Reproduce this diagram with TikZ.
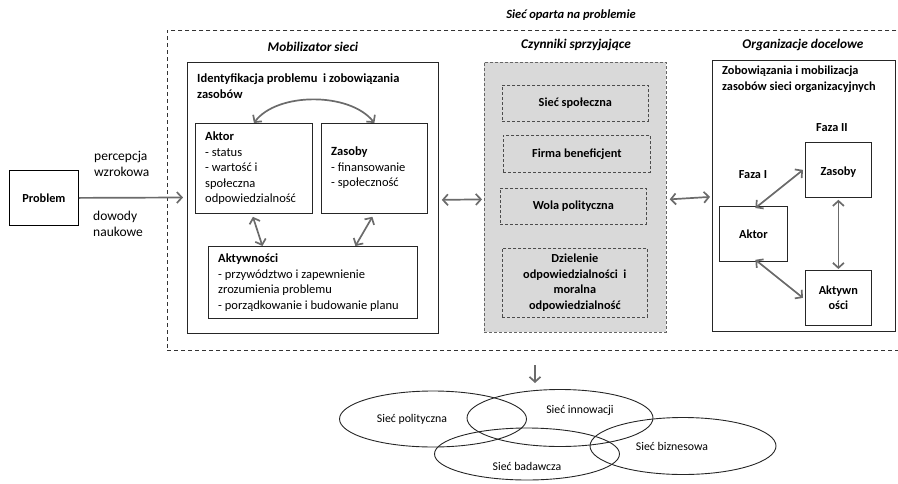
\documentclass[tikz,border=0pt]{standalone}
\usepackage{fontspec}
\setmainfont{Carlito}
\usetikzlibrary{arrows.meta,shapes.geometric}
\definecolor{arrgray}{HTML}{6B6B6B}
\definecolor{boxfill}{HTML}{D9D9D9}
\begin{document}
\begin{tikzpicture}[x=1pt,y=-1pt,
  box/.style={draw=black!85, line width=0.8pt, inner sep=0, anchor=north west},
  dbox/.style={draw=black!70, dashed, dash pattern=on 3pt off 2pt, line width=0.7pt, inner sep=0, anchor=north west},
  lbl/.style={anchor=north west, inner sep=0, align=left, font=\fontsize{12.5}{15.5}\selectfont},
  blbl/.style={inner sep=0, align=center, font=\fontsize{12.3}{15.5}\selectfont\bfseries},
  ttl/.style={inner sep=0, font=\fontsize{13.3}{15}\selectfont\bfseries\itshape},
  elab/.style={inner sep=0, font=\fontsize{11.8}{13}\selectfont},
  ell/.style={ellipse, draw=black!85, line width=0.9pt, inner sep=0},
  arr/.style={draw=arrgray, line width=1.7pt, -{Straight Barb[length=5pt,width=11pt]}},
  darr/.style={draw=arrgray, line width=1.7pt, {Straight Barb[length=5pt,width=11pt]}-{Straight Barb[length=5pt,width=11pt]}}
]
\useasboundingbox (0,0) rectangle (898,483);

% outer dashed frame
\node[draw=black!80, dashed, dash pattern=on 4pt off 3pt, line width=0.8pt, inner sep=0, anchor=north west,
      minimum width=740pt, minimum height=320pt] (outer) at (167,30) {};
\node[ttl, font=\fontsize{12.5}{15}\selectfont\bfseries\itshape] (tmain) at (571,15) {Sieć oparta na problemie};

% Problem
\node[box, draw=black, minimum width=69pt, minimum height=55pt] (prob) at (9,170) {};
\node[blbl] (probt) at (prob.center) {Problem};
\coordinate (probend) at (183,197.5);
\draw[arr] (prob.east) -- (probend);
\node[lbl, font=\fontsize{13.5}{16}\selectfont] (perc) at (94,151) {percepcja\\wzrokowa};
\node[lbl, font=\fontsize{13.5}{16}\selectfont] (dow) at (93,211) {dowody\\naukowe};

% Mobilizator sieci
\node[ttl] (tmob) at (313,47) {Mobilizator sieci};
\node[box, minimum width=251pt, minimum height=271pt] (mob) at (187,62) {};
\node[lbl, font=\fontsize{12.5}{15.5}\selectfont\bfseries] (ident) at (197,74) {Identyfikacja problemu\ \ i zobowiązania\\zasobów};
\node[box, minimum width=117pt, minimum height=90pt] (aktor) at (195,123) {};
\node[lbl] (aktort) at (205,132) {\textbf{Aktor}\\- status\\- wartość i\\społeczna\\odpowiedzialność};
\node[box, minimum width=106pt, minimum height=90pt] (zas) at (321,123) {};
\node[lbl] (zast) at (331,147) {\textbf{Zasoby}\\- finansowanie\\- społeczność};
\node[box, minimum width=209pt, minimum height=72pt] (akt) at (208,246) {};
\node[lbl] (aktt) at (218,254) {\textbf{Aktywności}\\- przywództwo i zapewnienie\\zrozumienia problemu\\- porządkowanie i budowanie planu};
\draw[darr] (aktor.north) .. controls (277,92) and (350,92) .. (zas.north);
\draw[darr] ([xshift=-1pt,yshift=-3pt]aktor.south) -- ([xshift=-50.5pt]akt.north);
\draw[darr] ([xshift=-2pt,yshift=-3pt]zas.south) -- ([xshift=42.5pt]akt.north);

% Czynniki sprzyjajace
\node[ttl] (tczy) at (576,45) {Czynniki sprzyjające};
\node[dbox, draw=black!60, fill=boxfill, minimum width=182pt, minimum height=270pt] (czy) at (484,62) {};
\node[dbox, minimum width=146pt, minimum height=36pt] (c1) at (502,85) {};
\node[blbl] (c1t) at (c1.center) {Sieć społeczna};
\node[dbox, minimum width=147pt, minimum height=37pt] (c2) at (503,135) {};
\node[blbl] (c2t) at (c2.center) {Firma beneficjent};
\node[dbox, minimum width=146pt, minimum height=36pt] (c3) at (500,188) {};
\node[blbl] (c3t) at (c3.center) {Wola polityczna};
\node[dbox, minimum width=145pt, minimum height=69pt] (c4) at (502,248) {};
\node[blbl] (c4t) at (c4.center) {Dzielenie\\odpowiedzialności\ \ i\\moralna\\odpowiedzialność};
\draw[darr] ([xshift=3pt,yshift=-2pt]mob.east) -- ([xshift=-2pt,yshift=-2pt]czy.west);

% Organizacje docelowe
\node[ttl] (torg) at (803,45) {Organizacje docelowe};
\node[box, minimum width=183pt, minimum height=271pt] (org) at (712,60) {};
\draw[darr] ([xshift=3pt,yshift=-2pt]czy.east) -- ([xshift=-2pt,yshift=-1pt]org.west);
\node[lbl, font=\fontsize{12.3}{16}\selectfont\bfseries] (orgt) at (722,66) {Zobowiązania i mobilizacja\\zasobów sieci organizacyjnych};
\node[blbl] (faza1) at (753,175) {Faza I};
\node[blbl] (faza2) at (832,128) {Faza II};
\node[box, minimum width=68pt, minimum height=55pt] (aktor2) at (719,206) {};
\node[blbl] (aktor2t) at (aktor2.center) {Aktor};
\node[box, minimum width=66pt, minimum height=55pt] (zas2) at (805,142) {};
\node[blbl] (zas2t) at ([yshift=-2pt]zas2.center) {Zasoby};
\node[box, minimum width=66pt, minimum height=55pt] (akt2) at (805,270) {};
\node[blbl] (akt2t) at (akt2.center) {Aktywn\\ości};
\draw[darr] ([xshift=2pt,yshift=-2pt]aktor2.north) -- ([xshift=-2pt]zas2.west);
\draw[darr] ([yshift=-2pt]zas2.south) -- ([yshift=1pt]akt2.north);
\draw[darr] ([xshift=2pt,yshift=2pt]aktor2.south) -- ([xshift=-2pt]akt2.west);

% bottom networks
\coordinate (downstart) at (535,365);
\coordinate (downend) at (535,383);
\node[ell, minimum width=187pt, minimum height=56pt] (e1) at (433,419) {};
\node[ell, minimum width=186pt, minimum height=57pt] (e2) at (560,418) {};
\node[ell, minimum width=185pt, minimum height=52pt] (e3) at (527,454) {};
\node[ell, minimum width=186pt, minimum height=57pt] (e4) at (683,446) {};
\draw[arr] (downstart) -- (downend);
\node[elab] (e1t) at (412,419) {Sieć polityczna};
\node[elab] (e2t) at (580,410) {Sieć innowacji};
\node[elab] (e3t) at (527,466) {Sieć badawcza};
\node[elab] (e4t) at (672,446) {Sieć biznesowa};
\end{tikzpicture}
\end{document}
